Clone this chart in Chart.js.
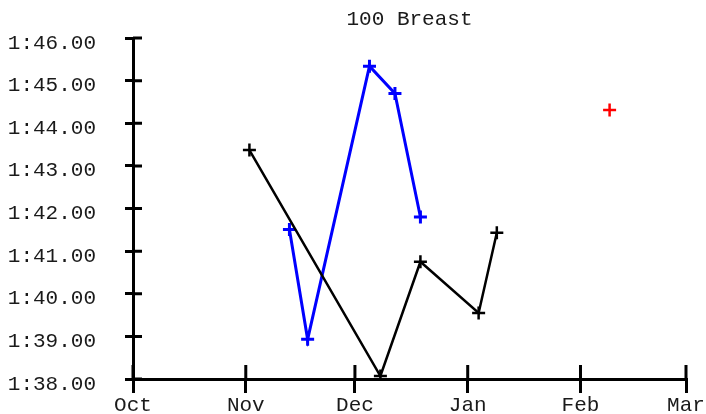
<!DOCTYPE html>
<html>
<head>
<meta charset="utf-8">
<script src="https://cdn.jsdelivr.net/npm/chart.js@4"></script>
<style>
  body { margin: 0; background: #fff; }
  #wrap { width: 706px; height: 414px; }
</style>
</head>
<body>
<div id="wrap"><canvas id="myChart" width="706" height="414"></canvas></div>
<script>
// season months shown on the x axis
var monthLabels = ['Oct', 'Nov', 'Dec', 'Jan', 'Feb', 'Mar'];
var monthStarts = ['2011-10-01', '2011-11-01', '2011-12-01', '2012-01-01', '2012-02-01', '2012-03-01'];

// swims (date, time)
var blackDates = ['2011-11-02', '2011-12-08', '2011-12-19', '2012-01-04', '2012-01-09'];
var blackTimes = ['1:43.37', '1:38.07', '1:40.75', '1:39.55', '1:41.43'];

var blueDates = ['2011-11-13', '2011-11-18', '2011-12-05', '2011-12-12', '2011-12-19'];
var blueTimes = ['1:41.51', '1:38.93', '1:45.34', '1:44.70', '1:41.80'];

var redDates = ['2012-02-09'];
var redTimes = ['1:44.31'];

var yMin = '1:38.00';
var yMax = '1:46.00';

function dayOf(s) {
    var p = s.split('-');
    var start = monthStarts[0].split('-');
    return (Date.UTC(+p[0], p[1] - 1, +p[2]) - Date.UTC(+start[0], start[1] - 1, +start[2])) / 86400000;
}

function secs(t) {
    var p = t.split(':');
    return (+p[0]) * 60 + parseFloat(p[1]);
}

function fmt(v) {
    var m = Math.floor(v / 60);
    var s = v - m * 60;
    return m + ':' + (s < 10 ? '0' : '') + s.toFixed(2);
}

function points(dates, times) {
    var out = [];
    for (var i = 0; i < dates.length; i++) {
        out.push({x: dayOf(dates[i]), y: secs(times[i])});
    }
    return out;
}

var monthDays = monthStarts.map(dayOf);
var FONT = {family: "'Liberation Mono', 'DejaVu Sans Mono', monospace", size: 21};
var INK = '#1a1a1a';

// inner half of the tick marks (ticks cross the axis line)
var innerTicks = {
    id: 'innerTicks',
    afterDraw: function (chart) {
        var ctx = chart.ctx;
        var xs = chart.scales.x, ys = chart.scales.y;
        ctx.save();
        ctx.strokeStyle = '#000';
        ctx.lineWidth = 3;
        ctx.beginPath();
        ys.ticks.forEach(function (t) {
            var py = ys.getPixelForValue(t.value);
            ctx.moveTo(xs.left, py);
            ctx.lineTo(xs.left + 9, py);
        });
        xs.ticks.forEach(function (t) {
            var px = xs.getPixelForValue(t.value);
            ctx.moveTo(px, ys.bottom);
            ctx.lineTo(px, ys.bottom - 14);
        });
        ctx.stroke();
        ctx.restore();
    }
};

var ctx = document.getElementById('myChart').getContext('2d');
var chart = new Chart(ctx, {
    type: 'line',
    data: {
        datasets: [{
            data: points(blackDates, blackTimes),
            borderColor: '#000',
            backgroundColor: '#000',
            borderWidth: 2.5,
            pointStyle: 'cross',
            pointRadius: 6.5,
            pointBorderWidth: 2.5,
            tension: 0
        }, {
            data: points(blueDates, blueTimes),
            borderColor: '#0000ff',
            backgroundColor: '#0000ff',
            borderWidth: 3,
            pointStyle: 'cross',
            pointRadius: 6.5,
            pointBorderWidth: 3,
            tension: 0
        }, {
            data: points(redDates, redTimes),
            borderColor: '#ff0000',
            backgroundColor: '#ff0000',
            showLine: false,
            pointStyle: 'cross',
            pointRadius: 6.5,
            pointBorderWidth: 2.5
        }]
    },
    options: {
        responsive: false,
        animation: false,
        layout: {padding: {left: 0, right: 20, top: 0, bottom: 0}},
        plugins: {
            legend: {display: false},
            tooltip: {enabled: false},
            title: {
                display: true,
                text: '100 Breast',
                color: INK,
                fullSize: false,
                font: {family: FONT.family, size: 21, weight: 'normal', lineHeight: 1.2},
                padding: {top: 7, bottom: 5.8}
            }
        },
        scales: {
            x: {
                type: 'linear',
                min: monthDays[0],
                max: monthDays[monthDays.length - 1],
                afterBuildTicks: function (scale) {
                    scale.ticks = monthDays.map(function (d) { return {value: d}; });
                },
                afterFit: function (scale) { scale.height = 35; },
                ticks: {
                    autoSkip: false,
                    maxRotation: 0,
                    color: INK,
                    font: FONT,
                    padding: 0,
                    callback: function (v) { return monthLabels[monthDays.indexOf(v)]; }
                },
                grid: {drawOnChartArea: false, color: '#000', lineWidth: 3, tickLength: 14},
                border: {display: true, color: '#000', width: 3}
            },
            y: {
                min: secs(yMin),
                max: secs(yMax),
                afterFit: function (scale) {
                    scale.width = 133;
                    // label padding would otherwise push the plot in from top and bottom
                    scale.paddingTop = 0;
                    scale.paddingBottom = 0;
                },
                ticks: {
                    stepSize: 1,
                    color: INK,
                    font: FONT,
                    padding: 29,
                    labelOffset: 5,
                    callback: function (v) { return fmt(v); }
                },
                grid: {drawOnChartArea: false, color: '#000', lineWidth: 3, tickLength: 8},
                border: {display: true, color: '#000', width: 3}
            }
        }
    },
    plugins: [innerTicks]
});
</script>
</body>
</html>
